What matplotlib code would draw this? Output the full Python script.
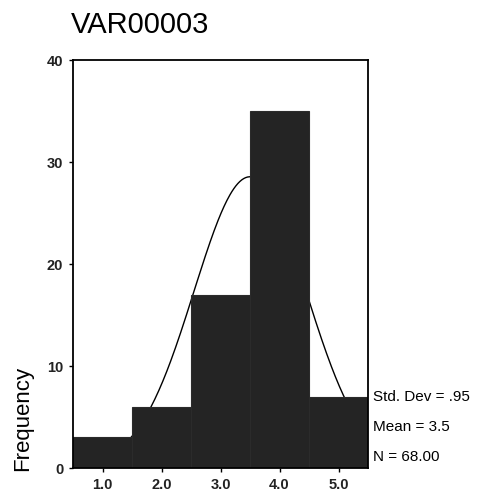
import numpy as np
import matplotlib.pyplot as plt

plt.rcParams['font.family'] = ['Liberation Sans', 'DejaVu Sans']

# histogram of VAR00003 (SPSS style)
bin_centers = [1.0, 2.0, 3.0, 4.0, 5.0]
counts = [3, 6, 17, 35, 7]
xtick_labels = ["1.0", "2.0", "3.0", "4.0", "5.0"]
yticks = [0, 10, 20, 30, 40]
std_dev = 0.95
mean = 3.5
n = 68

fig = plt.figure(figsize=(4.82, 4.98), dpi=100)
ax = fig.add_axes([0.1515, 0.0602, 0.612, 0.8193])

# normal curve from the displayed stats, drawn under the bars
xs = np.linspace(0.5, 5.5, 300)
ys = n * 1.0 * np.exp(-0.5 * ((xs - mean) / std_dev) ** 2) / (std_dev * np.sqrt(2 * np.pi))
ax.plot(xs, ys, color="black", linewidth=1.0, zorder=1)

ax.bar(bin_centers, counts, width=1.0, color="#242424", edgecolor="#2b2b2b",
       linewidth=0.8, zorder=2)

ax.set_xlim(0.5, 5.5)
ax.set_ylim(0, 40)
ax.set_xticks(bin_centers)
ax.set_xticklabels(xtick_labels)
ax.set_yticks(yticks)
ax.tick_params(axis="both", labelsize=10.5, length=3, width=1, direction="out", pad=4)
for lbl in ax.get_xticklabels() + ax.get_yticklabels():
    lbl.set_fontweight("bold")
    lbl.set_color("#222222")
for s in ax.spines.values():
    s.set_linewidth(1.3)
    s.set_zorder(3)

fig.text(0.147, 0.95, "VAR00003", fontsize=21, ha="left", va="center")
fig.text(0.046, 0.16, "Frequency", fontsize=16, rotation=90, ha="center", va="center")

fig.text(0.773, 0.203, f"Std. Dev = {str(std_dev)[1:]}", fontsize=11, va="center")
fig.text(0.773, 0.143, f"Mean = {mean}", fontsize=11, va="center")
fig.text(0.773, 0.082, f"N = {n:.2f}", fontsize=11, va="center")

fig.savefig("out.png", dpi=100)
